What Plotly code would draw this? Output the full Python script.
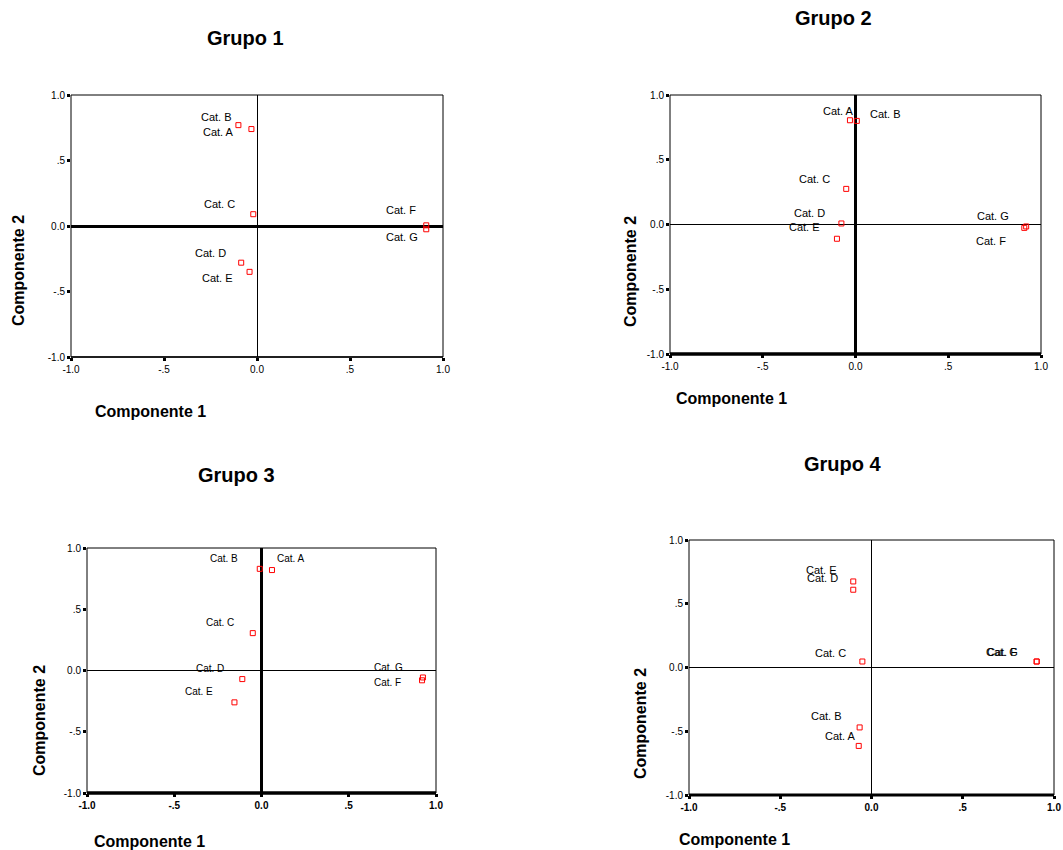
import plotly.graph_objects as go

# ---------------- data ----------------
categories = ["Cat. A", "Cat. B", "Cat. C", "Cat. D", "Cat. E", "Cat. F", "Cat. G"]

g1_x = [-0.03, -0.10, -0.02, -0.085, -0.04, 0.91, 0.91]
g1_y = [0.74, 0.77, 0.09, -0.28, -0.35, 0.005, -0.025]

g2_x = [-0.03, 0.007, -0.05, -0.076, -0.10, 0.91, 0.92]
g2_y = [0.805, 0.80, 0.275, 0.008, -0.11, -0.026, -0.015]

g3_x = [0.06, -0.01, -0.05, -0.11, -0.155, 0.92, 0.925]
g3_y = [0.82, 0.83, 0.305, -0.07, -0.26, -0.08, -0.057]

g4_x = [-0.07, -0.065, -0.05, -0.10, -0.10, 0.905, 0.905]
g4_y = [-0.615, -0.47, 0.047, 0.61, 0.675, 0.047, 0.047]

group_titles = ["Grupo 1", "Grupo 2", "Grupo 3", "Grupo 4"]
x_title = "Componente 1"
y_title = "Componente 2"

tick_vals = [-1.0, -0.5, 0.0, 0.5, 1.0]
tick_text = ["-1.0", "-.5", "0.0", ".5", "1.0"]

# ---------------- styles / layout ----------------
W, H = 1063, 850
FONT = "Arial, Liberation Sans, sans-serif"

# pixel box of each plotting area: (left, right, top, bottom)
boxes = [
    (71, 443, 95, 357),
    (670, 1041, 95, 354),
    (87, 436, 548, 793),
    (689, 1054, 540, 795),
]

# label offsets in pixels (dx, dy up) for A..G in each group
label_shifts = [
    [(-33, -3), (-22, 8), (-34, 10), (-31, 10), (-32, -6), (-25, 15), (-24, -8)],
    [(-11, 9), (29, 7), (-32, 10), (-32, 10), (-32, 12), (-33, -13), (-33, 10)],
    [(19, 12), (-36, 10), (-33, 11), (-32, 11), (-35, 11), (-35, -2), (-34, 10)],
    [(-18, 10), (-33, 11), (-32, 9), (-31, 12), (-32, 11), (-35, 10), (-35, 10)],
]

# zeroline widths (vertical x=0 line, horizontal y=0 line)
zero_widths = [(1, 3), (3, 1), (3, 1), (1, 1)]
bottom_widths = [1.5, 3.5, 3.5, 3]
label_sizes = [11, 11, 10, 11]
bold_xticks = [False, False, True, True]

title_pos = [(245, 38), (833, 18), (236, 475), (843, 464)]
xtitle_pos = [(150, 411), (731, 398), (149, 841), (734, 839)]
ytitle_pos = [(18, 271), (630, 272), (39, 721), (640, 724)]

groups = [(g1_x, g1_y), (g2_x, g2_y), (g3_x, g3_y), (g4_x, g4_y)]

fig = go.Figure()
annotations = []
shapes = []
layout_axes = {}

for i, ((gx, gy), box) in enumerate(zip(groups, boxes)):
    n = i + 1
    xa = "x" if n == 1 else f"x{n}"
    ya = "y" if n == 1 else f"y{n}"
    l, r, t, b = box
    xdom = [l / W, r / W]
    ydom = [1 - b / H, 1 - t / H]

    fig.add_trace(go.Scatter(
        x=gx, y=gy, mode="markers", xaxis=xa, yaxis=ya,
        marker=dict(symbol="square-open", size=5, color="#ff0000",
                    line=dict(width=1, color="#ff0000")),
        showlegend=False, hoverinfo="text", text=categories,
    ))

    xt = [f"<b>{s}</b>" for s in tick_text] if bold_xticks[i] else tick_text
    layout_axes[("xaxis" if n == 1 else f"xaxis{n}")] = dict(
        domain=xdom, range=[-1, 1], anchor=ya,
        tickvals=tick_vals, ticktext=xt, ticks="outside", ticklen=3, tickwidth=3,
        tickcolor="black", tickfont=dict(size=10, family=FONT, color="black"),
        showgrid=False, zeroline=True, zerolinecolor="black",
        zerolinewidth=zero_widths[i][0], showline=False, fixedrange=True,
        automargin=False,
    )
    layout_axes[("yaxis" if n == 1 else f"yaxis{n}")] = dict(
        domain=ydom, range=[-1, 1], anchor=xa,
        tickvals=tick_vals, ticktext=tick_text, ticks="outside", ticklen=3, tickwidth=3,
        tickcolor="black", tickfont=dict(size=10, family=FONT, color="black"),
        showgrid=False, zeroline=True, zerolinecolor="black",
        zerolinewidth=zero_widths[i][1], showline=False, fixedrange=True,
        automargin=False,
    )

    # frame
    shapes.append(dict(type="rect", xref=f"{xa} domain", yref=f"{ya} domain",
                       x0=0, x1=1, y0=0, y1=1, line=dict(color="black", width=1)))
    shapes.append(dict(type="line", xref=f"{xa} domain", yref=f"{ya} domain",
                       x0=0, x1=1, y0=0, y1=0,
                       line=dict(color="black", width=bottom_widths[i])))

    # point labels
    for cat, px, py, (dx, dy) in zip(categories, gx, gy, label_shifts[i]):
        annotations.append(dict(
            x=px, y=py, xref=xa, yref=ya, text=cat, showarrow=False,
            xshift=dx, yshift=dy, xanchor="center", yanchor="middle",
            font=dict(size=label_sizes[i], family=FONT, color="black"),
        ))

    # group title
    tx, ty = title_pos[i]
    annotations.append(dict(x=tx / W, y=1 - ty / H, xref="paper", yref="paper",
                            text=f"<b>{group_titles[i]}</b>", showarrow=False,
                            xanchor="center", yanchor="middle",
                            font=dict(size=20, family=FONT, color="black")))
    # axis titles
    ax_, ay_ = xtitle_pos[i]
    annotations.append(dict(x=ax_ / W, y=1 - ay_ / H, xref="paper", yref="paper",
                            text=f"<b>{x_title}</b>", showarrow=False,
                            xanchor="center", yanchor="middle",
                            font=dict(size=16, family=FONT, color="black")))
    bx_, by_ = ytitle_pos[i]
    annotations.append(dict(x=bx_ / W, y=1 - by_ / H, xref="paper", yref="paper",
                            text=f"<b>{y_title}</b>", showarrow=False, textangle=-90,
                            xanchor="center", yanchor="middle",
                            font=dict(size=16, family=FONT, color="black")))

fig.update_layout(
    width=W, height=H, margin=dict(l=0, r=0, t=0, b=0, pad=0, autoexpand=False),
    paper_bgcolor="white", plot_bgcolor="white",
    annotations=annotations, shapes=shapes,
    font=dict(family=FONT, color="black"),
    **layout_axes,
)

fig.write_html(
    "out.html",
    config={"displayModeBar": False},
    post_script="document.body.style.margin='0';document.body.style.overflow='hidden';",
)
